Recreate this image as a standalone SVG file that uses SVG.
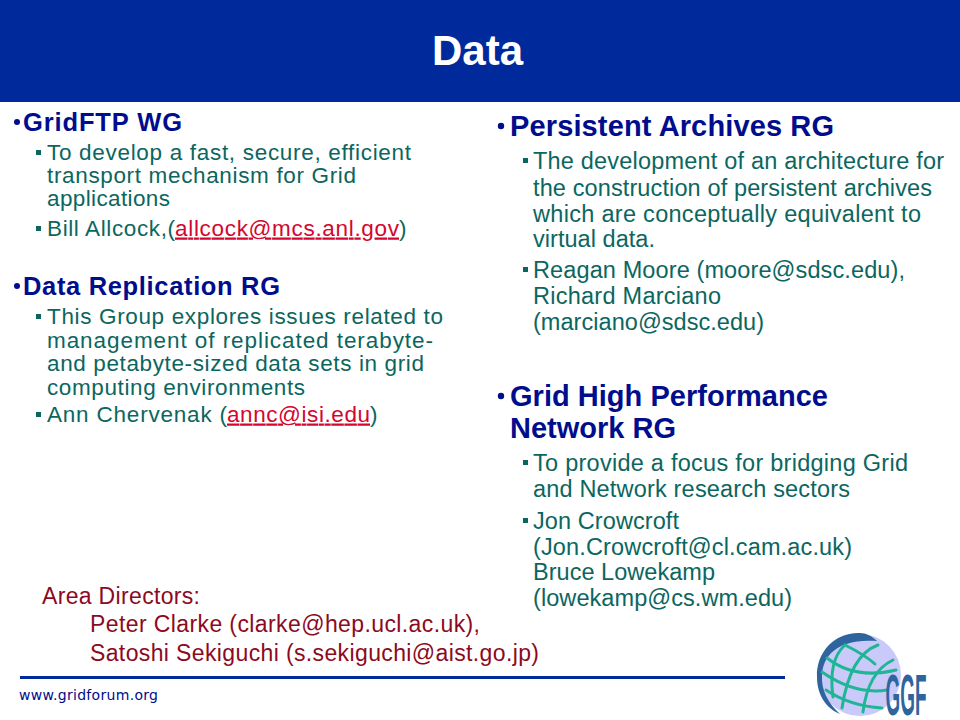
<svg xmlns="http://www.w3.org/2000/svg" width="960" height="720" viewBox="0 0 960 720">
<style>
text{font-family:"Liberation Sans",Arial,sans-serif}
.h{font-weight:bold;fill:#000d8c}
.hl{font-size:25.5px}.hr{font-size:29px}
.b{fill:#0b6660}
.bl{font-size:22.5px}.br{font-size:23.5px}
.r{fill:#d4062f;text-decoration:underline;text-decoration-skip-ink:none;text-decoration-thickness:1px}
.d{fill:#8c0a1e;font-size:23px}
.sq{fill:#0b6660}
</style>
<rect width="960" height="720" fill="#fff"/>
<rect id="banner" width="960" height="102" fill="#002a9c"/>
<text id="title" x="477.500" y="65" text-anchor="middle" font-size="42" font-weight="bold" fill="#fff">Data</text>
<g id="left">
<circle cx="17" cy="122" r="3" fill="#000d8c"/>
<text class="h hl" x="23" y="131" textLength="159">GridFTP WG</text>
<rect class="sq" x="36" y="150" width="5" height="5"/>
<text class="b bl" x="47" y="159.500" textLength="364">To develop a fast, secure, efficient</text>
<text class="b bl" x="47" y="182.500" textLength="309">transport mechanism for Grid</text>
<text class="b bl" x="47" y="205.500" textLength="123">applications</text>
<rect class="sq" x="36" y="226" width="5" height="5"/>
<text class="b bl" x="47" y="235.500" textLength="128">Bill Allcock,(</text>
<text class="r bl" x="175" y="235.500" textLength="224">allcock@mcs.anl.gov</text>
<text class="b bl" x="399" y="235.500">)</text>
<circle cx="17" cy="286" r="3" fill="#000d8c"/>
<text class="h hl" x="23" y="295" textLength="257">Data Replication RG</text>
<rect class="sq" x="36" y="314" width="5" height="5"/>
<text class="b bl" x="47" y="323.500" textLength="396">This Group explores issues related to</text>
<text class="b bl" x="47" y="347.500" textLength="386">management of replicated terabyte-</text>
<text class="b bl" x="47" y="370.500" textLength="377">and petabyte-sized data sets in grid</text>
<text class="b bl" x="47" y="394.500" textLength="258">computing environments</text>
<rect class="sq" x="36" y="412" width="5" height="5"/>
<text class="b bl" x="47" y="421.500" textLength="180">Ann Chervenak (</text>
<text class="r bl" x="227" y="421.500" textLength="143">annc@isi.edu</text>
<text class="b bl" x="370" y="421.500">)</text>
</g>
<g id="right">
<circle cx="501" cy="126" r="3.2" fill="#000d8c"/>
<text class="h hr" x="510" y="136" textLength="324">Persistent Archives RG</text>
<rect class="sq" x="523" y="158" width="5" height="5"/>
<text class="b br" x="533" y="169" textLength="411">The development of an architecture for</text>
<text class="b br" x="533" y="196" textLength="399">the construction of persistent archives</text>
<text class="b br" x="533" y="222" textLength="388">which are conceptually equivalent to</text>
<text class="b br" x="533" y="247" textLength="122">virtual data.</text>
<rect class="sq" x="523" y="267" width="5" height="5"/>
<text class="b br" x="533" y="278" textLength="372">Reagan Moore (moore@sdsc.edu),</text>
<text class="b br" x="533" y="304" textLength="188">Richard Marciano</text>
<text class="b br" x="533" y="330" textLength="231">(marciano@sdsc.edu)</text>
<circle cx="501" cy="396" r="3.2" fill="#000d8c"/>
<text class="h hr" x="510" y="406" textLength="318">Grid High Performance</text>
<text class="h hr" x="510" y="438" textLength="166">Network RG</text>
<rect class="sq" x="523" y="460" width="5" height="5"/>
<text class="b br" x="533" y="471" textLength="375">To provide a focus for bridging Grid</text>
<text class="b br" x="533" y="497" textLength="317">and Network research sectors</text>
<rect class="sq" x="523" y="518" width="5" height="5"/>
<text class="b br" x="533" y="529" textLength="146">Jon Crowcroft</text>
<text class="b br" x="533" y="555" textLength="319">(Jon.Crowcroft@cl.cam.ac.uk)</text>
<text class="b br" x="533" y="580" textLength="182">Bruce Lowekamp</text>
<text class="b br" x="533" y="606" textLength="259">(lowekamp@cs.wm.edu)</text>
</g>
<g id="directors">
<text class="d" x="42" y="604" textLength="158">Area Directors:</text>
<text class="d" x="90" y="632" textLength="390">Peter Clarke (clarke@hep.ucl.ac.uk),</text>
<text class="d" x="90" y="661" textLength="449">Satoshi Sekiguchi (s.sekiguchi@aist.go.jp)</text>
</g>
<rect id="rule" x="20" y="676" width="765" height="3" fill="#002a9c"/>
<text id="url" x="19" y="700" font-size="14" fill="#000d8c" style="font-family:'DejaVu Sans',sans-serif" textLength="139">www.gridforum.org</text>
<g id="logo">
<circle cx="860" cy="675" r="41" fill="#c9c9fa"/>
<path d="M860 633C835 632 816 652 817 677C817 695 826 708 840 714C828 703 821 690 822 675C823 654 840 638 877 641C872 636 866 633 860 633Z" fill="#2f659f"/>
<g fill="none" stroke="#1eb695" stroke-width="3" stroke-linecap="round">
<path d="M827 658Q855 680 896 670"/>
<path d="M822 672Q855 695 887 690"/>
<path d="M826 690Q850 706 882 708"/>
<path d="M845 645Q865 655 875 664"/>
<path d="M878 645Q850 655 842 708"/>
<path d="M893 660Q868 672 863 712"/>
<path d="M845 645Q828 660 833 697"/>
</g>
<text x="885.500" y="715" font-size="58" font-weight="bold" fill="#2f659f" textLength="41" lengthAdjust="spacingAndGlyphs">GGF</text>
</g>
</svg>
